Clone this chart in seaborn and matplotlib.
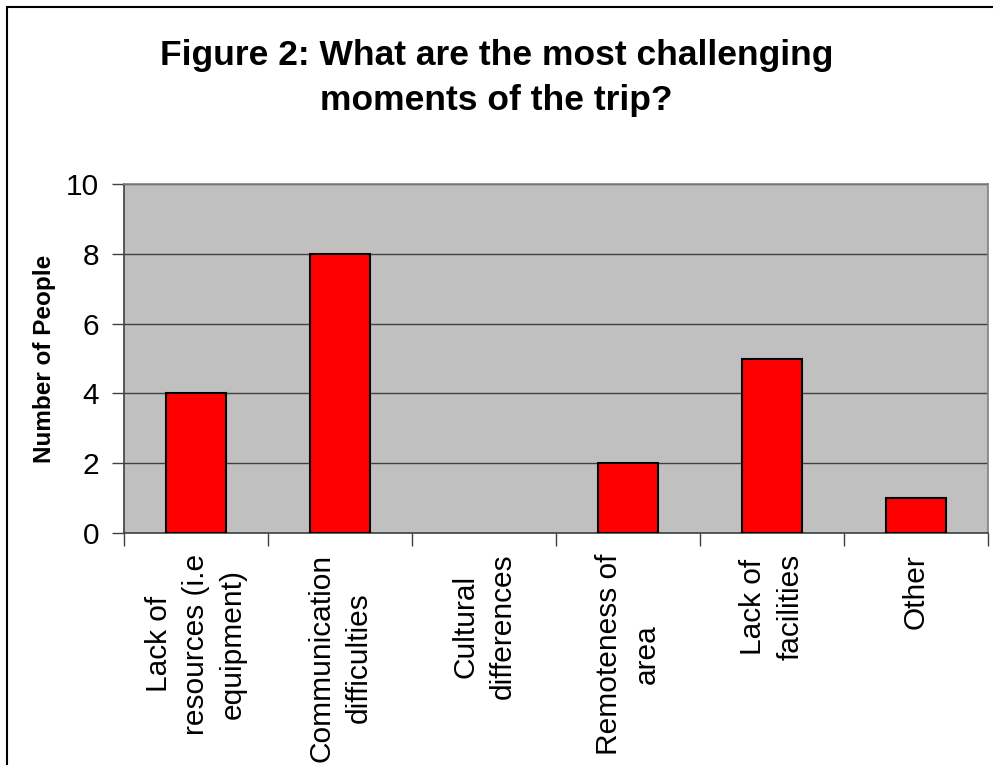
import matplotlib
matplotlib.use("Agg")
import matplotlib.pyplot as plt
import seaborn as sns
import pandas as pd
from matplotlib.patches import Rectangle

categories = ["Lack of\nresources (i.e\nequipment)", "Communication\ndifficulties",
              "Cultural\ndifferences", "Remoteness of\narea", "Lack of\nfacilities", "Other"]
values = [4, 8, 0, 2, 5, 1]
yticks = [0, 2, 4, 6, 8, 10]

df = pd.DataFrame({"cat": categories, "val": values})

sns.set_style("white")
plt.rcParams['font.family'] = ['Liberation Sans', 'DejaVu Sans']
plt.rcParams['text.color'] = 'black'
plt.rcParams['xtick.color'] = 'black'
plt.rcParams['ytick.color'] = 'black'
plt.rcParams['axes.labelcolor'] = 'black'

fig = plt.figure(figsize=(9.93, 7.65), dpi=100)
ax = fig.add_axes([124/993, 1-533/765, (988-124)/993, (533-184)/765])
ax.set_facecolor("#C0C0C0")

sns.barplot(data=df, x="cat", y="val", order=categories, color="#FF0000",
            saturation=1, width=0.41, edgecolor="black", linewidth=1.5, ax=ax, zorder=3)
for p in ax.patches:
    if p.get_height() == 0:
        p.set_linewidth(0)

ax.set_ylim(0, 10)
ax.set_xlim(-0.5, len(categories) - 0.5)
ax.set_yticks(yticks)
ax.set_yticklabels([str(v) for v in yticks], fontsize=21.5)
ax.yaxis.grid(True, color="#404040", linewidth=1.0, zorder=1)
ax.set_axisbelow(True)

ax.set_xticks([i - 0.5 for i in range(len(categories) + 1)], minor=False)
ax.set_xticklabels([""] * (len(categories) + 1))
ax.set_xticks(range(len(categories)), minor=True)
ax.set_xticklabels(categories, minor=True, rotation=90, fontsize=21.5,
                   va="top", ha="center", multialignment="center", linespacing=1.42)
ax.tick_params(axis="x", which="minor", length=0, pad=15)
ax.tick_params(axis="x", which="major", direction="out", length=9, width=1, color="#404040", bottom=True)
ax.tick_params(axis="y", direction="out", length=9, width=1, color="#404040", pad=9, left=True)

for s in ["top", "right"]:
    ax.spines[s].set_color("#808080")
    ax.spines[s].set_linewidth(1.2)
for s in ["left", "bottom"]:
    ax.spines[s].set_color("#404040")
    ax.spines[s].set_linewidth(1.2)

ax.set_xlabel("")
ax.set_ylabel("Number of People", fontsize=17.5, fontweight="bold")
ax.yaxis.set_label_coords(-68/864, 0.5)

fig.text(0.5, 1 - 65/765, "Figure 2: What are the most challenging", ha="center", va="baseline",
         fontsize=25.5, fontweight="bold")
fig.text(0.5, 1 - 110/765, "moments of the trip?", ha="center", va="baseline",
         fontsize=25.5, fontweight="bold")

fig.patches.append(Rectangle((7/993, -0.1), 1.2, 1.1 - 7/765, transform=fig.transFigure,
                             fill=False, edgecolor="black", linewidth=1.5, zorder=10))

fig.savefig("out.png", dpi=100)
